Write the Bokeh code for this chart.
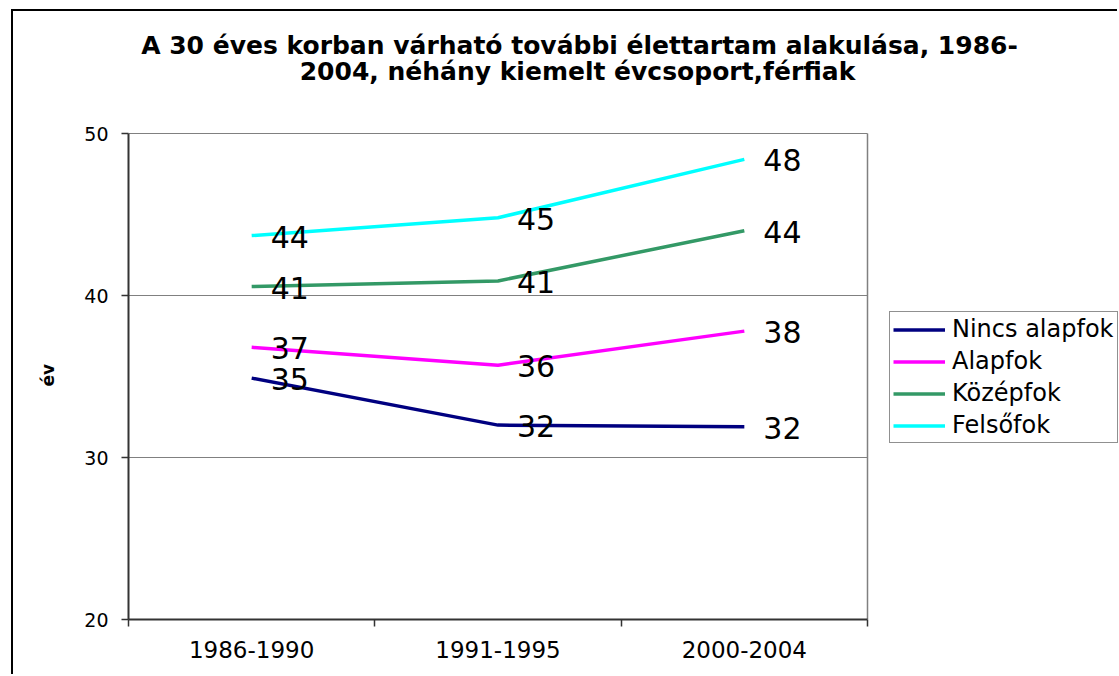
from bokeh.plotting import figure
from bokeh.models import Range1d, FixedTicker, Legend, LegendItem, Label, Title
from bokeh.core.properties import value
from bokeh.embed import file_html
from bokeh.resources import INLINE

# ---- data ----
periods = ["1986-1990", "1991-1995", "2000-2004"]
nincs_alapfok = [34.9, 32.0, 31.9]
alapfok = [36.8, 35.7, 37.8]
kozepfok = [40.55, 40.9, 44.0]
felsofok = [43.7, 44.8, 48.4]
series_names = ["Nincs alapfok", "Alapfok", "Középfok", "Felsőfok"]
series_colors = ["#000080", "#FF00FF", "#339966", "#00FFFF"]
y_ticks = [20, 30, 40, 50]
title_lines = ["A 30 éves korban várható további élettartam alakulása, 1986-",
               "2004, néhány kiemelt évcsoport,férfiak"]
y_label = "év"

FONT = "DejaVu Sans"

# ---- layout geometry (page pixels) ----
PAGE_W, PAGE_H = 1119, 676
CANVAS_L, CANVAS_T = 13, 11          # after the outer chart border
PLOT_L, PLOT_R, PLOT_T, PLOT_B = 128, 867, 133, 619

n = len(periods)
xs = [i + 0.5 for i in range(n)]
bounds = list(range(n + 1))
y0, y1 = y_ticks[0], y_ticks[-1]

# frame spans from the plot area to the canvas top/right edge; axes and grid are bounded
x_end = n + (PAGE_W - PLOT_R) * n / (PLOT_R - PLOT_L)
y_end = y1 + (PLOT_T - CANVAS_T) * (y1 - y0) / (PLOT_B - PLOT_T)

p = figure(width=PAGE_W - CANVAS_L, height=PAGE_H - CANVAS_T, title=None,
           x_range=Range1d(0, x_end), y_range=Range1d(y0, y_end),
           output_backend="svg", toolbar_location=None,
           min_border_left=PLOT_L - CANVAS_L, min_border_right=0,
           min_border_top=0, min_border_bottom=PAGE_H - PLOT_B)
p.styles = {"border-left": "2px solid black", "border-top": "2px solid black",
            "margin-left": "11px", "margin-top": "9px"}

p.background_fill_color = "white"
p.border_fill_color = "white"
p.outline_line_color = None

# grid: horizontal lines at the y ticks, plus the plot-area right border
p.ygrid.ticker = FixedTicker(ticks=y_ticks)
p.ygrid.cross_bounds = (0, n)
p.ygrid.grid_line_color = "#808080"
p.ygrid.grid_line_width = 1.2
p.xgrid.ticker = FixedTicker(ticks=[n])
p.xgrid.cross_bounds = (y0, y1)
p.xgrid.grid_line_color = "#808080"
p.xgrid.grid_line_width = 1.5

# x axis
xa = p.xaxis[0]
xa.bounds = (0, n)
xa.ticker = FixedTicker(ticks=xs, minor_ticks=bounds)
xa.major_label_overrides = {x: lab for x, lab in zip(xs, periods)}
xa.major_tick_out = 0
xa.major_tick_in = 0
xa.minor_tick_out = 7
xa.minor_tick_in = 0
xa.minor_tick_line_color = "#333333"
xa.minor_tick_line_width = 1.5
xa.axis_line_color = "#333333"
xa.axis_line_width = 2
xa.major_label_text_font = FONT
xa.major_label_text_font_size = "23px"
xa.major_label_text_color = "black"
xa.major_label_standoff = 14

# y axis
ya = p.yaxis[0]
ya.bounds = (y0, y1)
ya.ticker = FixedTicker(ticks=y_ticks)
ya.major_tick_out = 7
ya.major_tick_in = 0
ya.minor_tick_line_color = None
ya.major_tick_line_color = "#333333"
ya.major_tick_line_width = 1.5
ya.axis_line_color = "#333333"
ya.axis_line_width = 2
ya.major_label_text_font = FONT
ya.major_label_text_font_size = "19px"
ya.major_label_text_color = "black"
ya.major_label_standoff = 13

# y axis title, centred on the bounded plot area (offset measured up from the frame bottom)
p.add_layout(Title(text=y_label, align="left", offset=233, vertical_align="middle",
                   standoff=46, text_font=FONT, text_font_style="bold",
                   text_font_size="17px", text_color="black"), "left")

# lines + value labels
all_series = [nincs_alapfok, alapfok, kozepfok, felsofok]
items = []
for name, vals, col in zip(series_names, all_series, series_colors):
    r = p.line(xs, vals, line_color=col, line_width=3.5)
    items.append(LegendItem(label=name, renderers=[r]))
    p.text(x=xs, y=vals, text=[str(int(v + 0.5)) for v in vals],
           x_offset=19, y_offset=1, text_align="left", text_baseline="middle",
           text_font=value(FONT), text_font_size="30px", text_color="black")

# legend (screen px from the frame's bottom-left; runs to the right edge as in the original)
legend = Legend(items=items, location=(889 - PLOT_L, PLOT_B - 443))
legend.label_text_font = FONT
legend.label_text_font_size = "24px"
legend.label_text_color = "black"
legend.glyph_width = 52
legend.glyph_height = 27
legend.label_height = 27
legend.label_standoff = 7
legend.spacing = 4
legend.padding = 3
legend.margin = 0
legend.border_line_color = "#222222"
legend.border_line_width = 1
legend.background_fill_color = "white"
legend.background_fill_alpha = 1
p.add_layout(legend, "center")

# title lines (screen px from the frame's bottom-left)
for text, cx, base in zip(title_lines, [579, 577], [45, 71]):
    p.add_layout(Label(x=cx - PLOT_L, y=PLOT_B - base, x_units="screen", y_units="screen",
                       text=text, text_align="center", text_baseline="alphabetic",
                       text_font=FONT, text_font_style="bold", text_font_size="25px",
                       text_color="black"))

open("out.html", "w").write(file_html(p, INLINE))
